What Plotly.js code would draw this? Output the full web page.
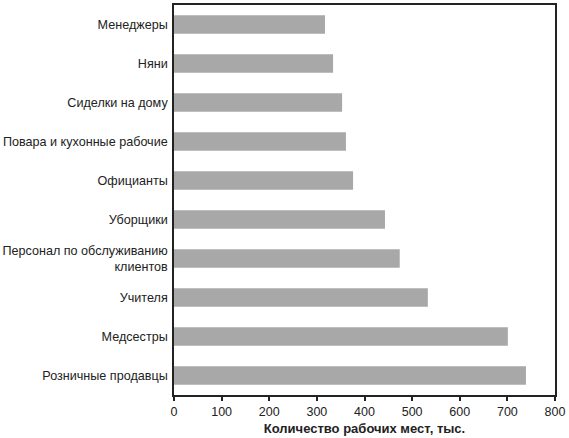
<!DOCTYPE html>
<html>
<head>
<meta charset="utf-8">
<script src="https://cdn.plot.ly/plotly-3.0.1.min.js"></script>
<style>
  html, body { margin: 0; padding: 0; background: #fff; }
  #chart { width: 569px; height: 438px; }
</style>
</head>
<body>
<div id="chart"></div>
<script>
// categories, top to bottom
const jobs = [
    'Менеджеры',
    'Няни',
    'Сиделки на дому',
    'Повара и кухонные рабочие',
    'Официанты',
    'Уборщики',
    'Персонал по обслуживанию<br>клиентов',
    'Учителя',
    'Медсестры',
    'Розничные продавцы'
];
// thousands of jobs
const jobCounts = [317, 334, 353, 361, 376, 443, 474, 533, 701, 739];
const xTicks = [0, 100, 200, 300, 400, 500, 600, 700, 800];

const trace = {
    type: 'bar',
    orientation: 'h',
    x: jobCounts,
    y: jobs,
    width: 0.47,
    marker: { color: '#a8a8a8', line: { width: 0 } },
    hoverinfo: 'x+y'
};

const layout = {
    width: 569,
    height: 438,
    paper_bgcolor: '#ffffff',
    plot_bgcolor: '#ffffff',
    margin: { l: 174, r: 14, t: 5, b: 43 },
    showlegend: false,
    font: { family: 'Liberation Sans, Arial, sans-serif', color: '#222222', size: 12 },
    xaxis: {
        range: [0, 800],
        tickvals: xTicks,
        ticktext: xTicks.map(String),
        ticks: 'outside',
        ticklen: 4,
        tickwidth: 1.5,
        tickcolor: '#222222',
        showgrid: false,
        zeroline: false,
        showline: true,
        linecolor: '#222222',
        linewidth: 1.5,
        mirror: true,
        tickfont: { size: 12.5, color: '#222222' },
        title: {
            text: 'Количество рабочих мест, тыс.',
            font: { size: 13, weight: 'bold', color: '#222222' },
            standoff: 6
        }
    },
    yaxis: {
        autorange: 'reversed',
        ticks: '',
        showgrid: false,
        zeroline: false,
        showline: true,
        linecolor: '#222222',
        linewidth: 1.5,
        mirror: true,
        ticklabelstandoff: 2,
        tickfont: { size: 12.6, color: '#222222' }
    }
};

Plotly.newPlot('chart', [trace], layout, { displayModeBar: false, responsive: false });
</script>
</body>
</html>
